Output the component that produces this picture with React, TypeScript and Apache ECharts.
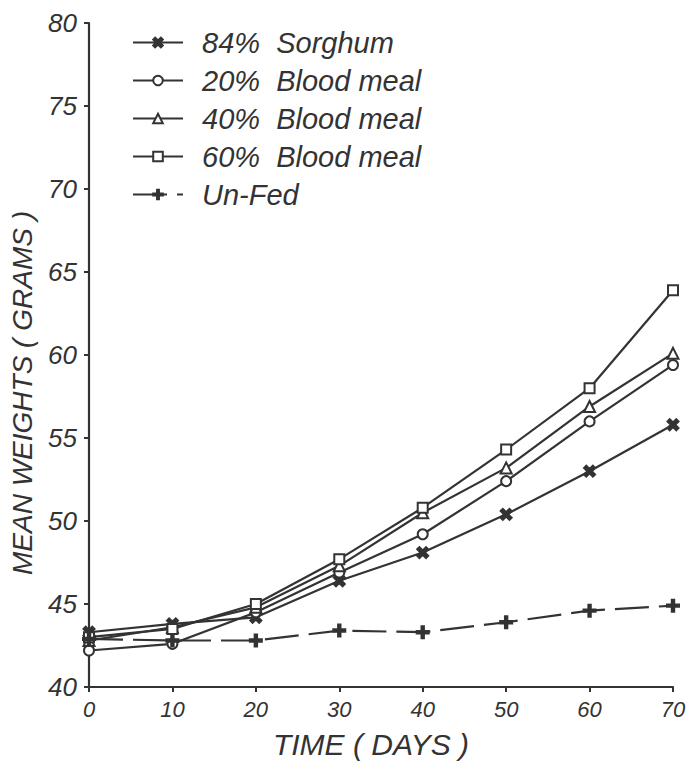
import React, { useEffect, useRef } from "react";
import * as echarts from "echarts";

const days = [0, 10, 20, 30, 40, 50, 60, 70];
const sorghum84 = [43.3, 43.8, 44.2, 46.4, 48.1, 50.4, 53.0, 55.8];
const bloodMeal20 = [42.2, 42.6, 44.5, 46.9, 49.2, 52.4, 56.0, 59.4];
const bloodMeal40 = [42.8, 43.6, 44.8, 47.3, 50.5, 53.2, 56.9, 60.1];
const bloodMeal60 = [43.0, 43.5, 45.0, 47.7, 50.8, 54.3, 58.0, 63.9];
const unFed = [42.9, 42.8, 42.8, 43.4, 43.3, 43.9, 44.6, 44.9];

const seriesNames = ["84%  Sorghum", "20%  Blood meal", "40%  Blood meal", "60%  Blood meal", "Un-Fed"];

const INK = "#333333";
const FONT = "'Liberation Sans', Arial, sans-serif";

const crossPath = "path://M0,2 L2,0 L5,3 L8,0 L10,2 L7,5 L10,8 L8,10 L5,7 L2,10 L0,8 L3,5 Z";
const plusPath = "path://M4,0 L6,0 L6,4 L10,4 L10,6 L6,6 L6,10 L4,10 L4,6 L0,6 L0,4 L4,4 Z";

function pairs(vals: number[]) {
  return days.map((d, i) => [d, vals[i]]);
}

export default function App() {
  const ref = useRef<HTMLDivElement>(null);
  useEffect(() => {
    if (!ref.current) return;
    const chart = echarts.init(ref.current, undefined, { renderer: "svg" });
    const mk = (name: string, vals: number[], symbol: string, size: number, dashed = false) => ({
      name,
      type: "line",
      data: pairs(vals),
      symbol,
      symbolSize: size,
      showSymbol: true,
      lineStyle: { color: INK, width: 2.2, type: dashed ? [34, 10] : "solid" },
      itemStyle: { color: INK, borderColor: INK, borderWidth: 2 },
      z: 3,
    });
    chart.setOption({
      animation: false,
      backgroundColor: "#ffffff",
      grid: { left: 88, right: 26, top: 23, bottom: 79, containLabel: false },
      legend: {
        orient: "vertical",
        left: 127,
        top: 23,
        itemWidth: 50,
        itemHeight: 12,
        itemGap: 9,
        data: seriesNames,
        textStyle: { fontFamily: FONT, fontStyle: "italic", fontSize: 29, color: "#333", padding: [0, 0, 0, 14] },
        inactiveColor: INK,
        selectedMode: false,
      },
      xAxis: {
        type: "value",
        min: 0,
        max: 70,
        interval: 10,
        name: "TIME ( DAYS )",
        nameLocation: "middle",
        nameGap: 42,
        nameTextStyle: { fontFamily: FONT, fontStyle: "italic", fontSize: 30, color: "#333", padding: [0, 20, 0, 0] },
        axisLine: { show: true, lineStyle: { color: INK, width: 2.2 } },
        axisTick: { show: true, length: 5, lineStyle: { color: INK, width: 2 } },
        axisLabel: { fontFamily: FONT, fontStyle: "italic", fontSize: 22, color: "#333", margin: 11 },
        splitLine: { show: false },
      },
      yAxis: {
        type: "value",
        min: 40,
        max: 80,
        interval: 5,
        name: "MEAN WEIGHTS ( GRAMS )",
        nameLocation: "middle",
        nameGap: 53,
        nameTextStyle: { fontFamily: FONT, fontStyle: "italic", fontSize: 28, color: "#333", padding: [0, 76, 0, 0] },
        axisLine: { show: true, lineStyle: { color: INK, width: 2.2 } },
        axisTick: { show: true, length: 5, lineStyle: { color: INK, width: 2 } },
        axisLabel: { fontFamily: FONT, fontStyle: "italic", fontSize: 26, color: "#333", margin: 12 },
        splitLine: { show: false },
      },
      series: [
        mk(seriesNames[0], sorghum84, crossPath, 11),
        mk(seriesNames[1], bloodMeal20, "emptyCircle", 10),
        mk(seriesNames[2], bloodMeal40, "emptyTriangle", 11),
        mk(seriesNames[3], bloodMeal60, "emptyRect", 10),
        mk(seriesNames[4], unFed, plusPath, 12, true),
      ],
    });
    return () => chart.dispose();
  }, []);
  return (
    <div
      ref={ref}
      style={{ position: "fixed", left: 0, top: 0, width: 699, height: 766, background: "#fff" }}
    />
  );
}
